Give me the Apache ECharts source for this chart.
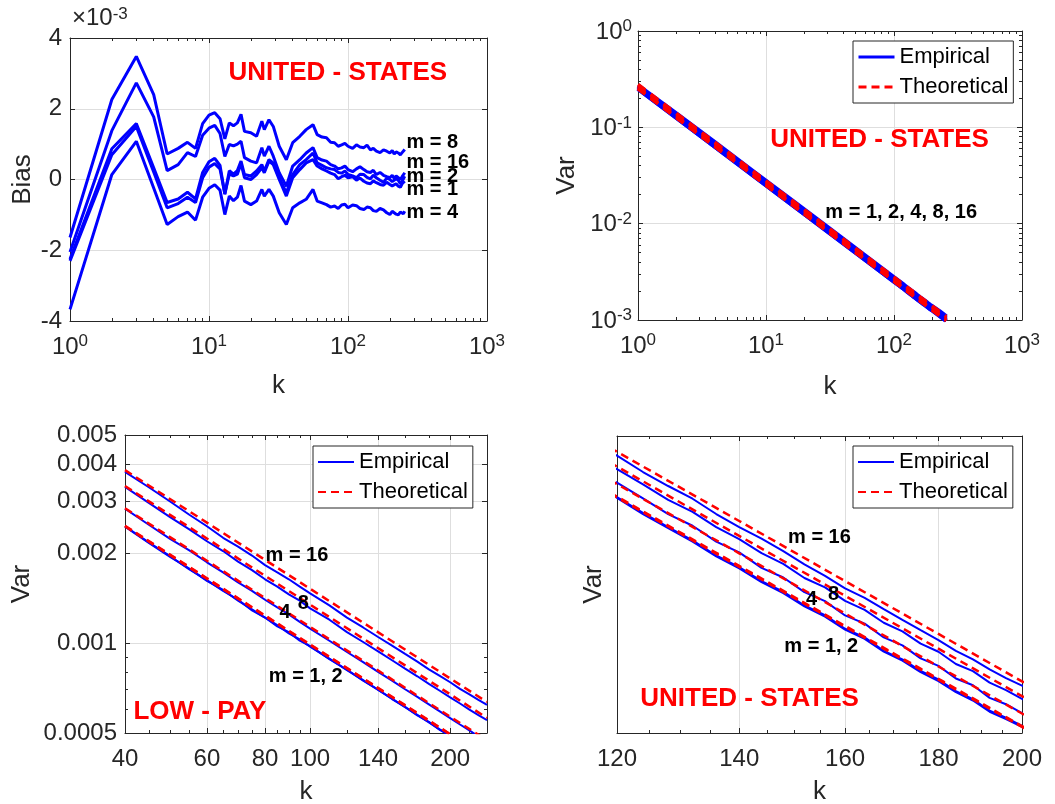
<!DOCTYPE html>
<html><head><meta charset="utf-8">
<script src="https://cdn.jsdelivr.net/npm/echarts@6/dist/echarts.min.js"></script>
<style>html,body{margin:0;padding:0;background:#fff}#c{width:1055px;height:804px}</style>
</head><body><div id="c"></div>
<script>
// ---------------- DATA ----------------
// Panel 1: bias (units of 1e-3) vs k, United States
const p1K = [1,2,3,4,5,6,7,8,9,10,11,12,13,14,15,16,17,18,20,22,24,25,27,29,32,36,40,45,50,56,60,65,70,75,80,85,90,95,100,108,115,122,130,137,145,152,160,170,180,190,200,208,215,222,230,238,245,250,256];
const biasM8  = [-1.64,2.26,3.48,2.40,0.72,0.88,1.05,0.88,1.58,1.82,1.89,1.72,1.15,1.60,1.52,1.60,1.84,1.36,1.32,1.22,1.65,1.41,1.69,1.50,0.94,0.56,1.04,1.22,1.41,1.55,1.27,1.20,1.18,1.05,1.04,0.94,0.98,1.02,0.94,0.88,0.98,0.92,0.90,0.97,0.84,0.88,0.80,0.76,0.84,0.80,0.75,0.82,0.72,0.78,0.75,0.70,0.76,0.74,0.85];
const biasM16 = [-2.05,1.38,2.73,1.77,0.25,0.42,0.76,0.65,1.25,1.45,1.53,1.30,0.65,0.99,0.95,1.00,1.08,0.62,0.52,0.47,0.90,0.66,0.94,0.66,0.19,-0.19,0.38,0.56,0.75,0.90,0.62,0.55,0.52,0.42,0.38,0.30,0.33,0.38,0.28,0.22,0.30,0.36,0.28,0.22,0.20,0.26,0.14,0.20,0.12,0.08,0.05,0.12,0.03,0.10,0.05,0.00,0.08,0.12,0.19];
const biasM2  = [-2.25,0.87,1.58,0.33,-0.65,-0.55,-0.36,-0.55,0.20,0.50,0.60,0.40,-0.42,0.25,0.15,0.25,0.52,0.14,0.10,0.24,0.42,0.24,0.56,0.47,0.05,-0.38,0.14,0.42,0.56,0.75,0.47,0.40,0.33,0.30,0.28,0.20,0.18,0.24,0.14,0.10,0.05,0.15,0.14,0.06,0.02,0.12,0.05,-0.02,-0.08,0.04,0.00,-0.06,-0.10,0.02,-0.02,-0.12,-0.05,0.00,0.09];
const biasM1  = [-2.30,0.70,1.50,0.21,-0.80,-0.68,-0.50,-0.65,0.05,0.35,0.45,0.30,-0.40,0.15,0.10,0.15,0.45,0.05,0.00,0.14,0.33,0.19,0.52,0.42,0.00,-0.47,0.05,0.28,0.47,0.56,0.38,0.30,0.24,0.18,0.14,0.02,0.08,0.12,0.05,0.08,-0.02,0.04,-0.05,-0.10,-0.12,-0.04,-0.09,-0.14,-0.16,-0.08,-0.14,-0.18,-0.20,-0.12,-0.19,-0.22,-0.12,-0.14,-0.05];
const biasM4  = [-3.67,0.14,1.08,-0.24,-1.27,-1.05,-0.92,-1.15,-0.50,-0.25,-0.15,-0.30,-0.99,-0.47,-0.60,-0.50,-0.17,-0.61,-0.71,-0.61,-0.28,-0.47,-0.28,-0.47,-0.94,-1.27,-0.80,-0.66,-0.56,-0.28,-0.61,-0.66,-0.71,-0.78,-0.75,-0.82,-0.72,-0.70,-0.80,-0.72,-0.74,-0.82,-0.85,-0.78,-0.80,-0.88,-0.90,-0.82,-0.86,-0.94,-0.99,-0.90,-0.92,-0.98,-1.00,-0.92,-0.95,-0.97,-0.90];

// Panels 2 and 4: variance vs k, United States
const usK = [1,2,4,8,16,32,64,100,120,124,128,132,136,140,144,148,152,156,160,164,168,172,176,180,184,188,192,196,200,228,256];
const usEmp16 = [0.272,0.1385,0.0695,0.0346,0.01735,0.00868,0.00432,0.00276,0.002300,0.002218,0.002150,0.002090,0.002020,0.001962,0.001912,0.001860,0.001806,0.001760,0.001712,0.001676,0.001635,0.001596,0.001560,0.001526,0.001490,0.001462,0.001430,0.001402,0.001379,0.001222,0.001088];
const usEmp8  = [0.266,0.1340,0.0672,0.0336,0.01680,0.00840,0.00420,0.00268,0.002232,0.002158,0.002085,0.002030,0.001962,0.001910,0.001852,0.001808,0.001752,0.001716,0.001665,0.001632,0.001586,0.001556,0.001514,0.001487,0.001447,0.001424,0.001388,0.001365,0.001339,0.001180,0.001052];
const usEmp4  = [0.259,0.1296,0.0648,0.0324,0.01620,0.00810,0.00405,0.00259,0.002166,0.002092,0.002020,0.001968,0.001900,0.001855,0.001792,0.001754,0.001698,0.001664,0.001612,0.001583,0.001535,0.001508,0.001465,0.001441,0.001401,0.001380,0.001342,0.001323,0.001297,0.001137,0.001012];
const usEmp2  = [0.252,0.1260,0.0630,0.0315,0.01575,0.00787,0.00394,0.00252,0.002098,0.002025,0.001962,0.001905,0.001842,0.001795,0.001740,0.001700,0.001648,0.001613,0.001565,0.001535,0.001490,0.001462,0.001425,0.001398,0.001362,0.001338,0.001304,0.001284,0.001261,0.001105,0.000984];
const usEmp1  = [0.2515,0.1257,0.0629,0.0314,0.01572,0.00786,0.00393,0.002515,0.002094,0.002020,0.001958,0.001900,0.001838,0.001790,0.001736,0.001694,0.001645,0.001608,0.001562,0.001530,0.001487,0.001458,0.001421,0.001393,0.001359,0.001334,0.001301,0.001280,0.001258,0.001103,0.000982];
const usThK = [1,10,100,120,140,160,180,200,256];
const usTh16 = [0.2784,0.02784,0.002784,0.002320,0.001989,0.001740,0.001547,0.001392,0.001088];
const usTh8  = [0.2694,0.02694,0.002694,0.002245,0.001924,0.001684,0.001497,0.001347,0.001052];
const usTh4  = [0.2591,0.02591,0.002591,0.002159,0.001851,0.001619,0.001439,0.001296,0.001012];
const usTh2  = [0.2520,0.02520,0.002520,0.002100,0.001800,0.001575,0.001400,0.001260,0.000984];
const usTh1  = [0.2515,0.02515,0.002515,0.002096,0.001796,0.001572,0.001397,0.001258,0.000982];

// Panel 3: variance vs k, Low-pay
const lowK = [40,45,50,55,60,65,70,75,80,85,90,95,100,110,120,130,140,150,160,170,180,190,200,210,220,230,240];
const lowEmp16 = [0.00376,0.00334,0.00299,0.00270,0.00247,0.00226,0.00211,0.00197,0.00183,0.00173,0.00164,0.00155,0.00147,0.00134,0.00122,0.00113,0.00105,0.000982,0.000921,0.000868,0.000818,0.000777,0.000740,0.000703,0.000674,0.000646,0.000621];
const lowEmp8  = [0.00335,0.00296,0.00265,0.00241,0.00220,0.00204,0.00188,0.00176,0.00164,0.00155,0.00146,0.00139,0.00131,0.00120,0.00109,0.00101,0.000940,0.000877,0.000822,0.000775,0.000731,0.000693,0.000658,0.000628,0.000599,0.000574,0.000552];
const lowEmp4  = [0.00283,0.00250,0.00224,0.00205,0.00187,0.00173,0.00160,0.00150,0.00140,0.00132,0.00125,0.00118,0.00112,0.00102,0.000935,0.000865,0.000802,0.000749,0.000701,0.000661,0.000624,0.000591,0.000561,0.000534,0.000510,0.000487,0.000467];
const lowEmp2  = [0.00246,0.00217,0.00195,0.00178,0.00162,0.00151,0.00139,0.00130,0.00122,0.00115,0.00108,0.00103,0.000975,0.000888,0.000813,0.000752,0.000697,0.000652,0.000610,0.000575,0.000543,0.000514,0.000489,0.000465,0.000444,0.000425,0.000407];
const lowEmp1  = [0.00247,0.00218,0.00196,0.00177,0.00163,0.00150,0.00140,0.00129,0.00122,0.00114,0.00109,0.00102,0.000978,0.000885,0.000815,0.000749,0.000699,0.000650,0.000612,0.000573,0.000545,0.000512,0.000490,0.000463,0.000445,0.000423,0.000408];
const lowThK = [40,60,100,160,240];
const lowTh16 = [0.00381,0.00254,0.001524,0.000953,0.000635];
const lowTh8  = [0.00337,0.002247,0.001348,0.000843,0.000562];
const lowTh4  = [0.002838,0.001892,0.001135,0.000709,0.000473];
const lowTh2  = [0.00248,0.001653,0.000992,0.00062,0.000413];
const lowTh1  = [0.00247,0.001647,0.000988,0.000618,0.000412];

// Tick values
const decadeTicks = [1,10,100,1000];
const varTicksP2 = [0.001,0.01,0.1,1];
const lowXTicks = [40,60,80,100,140,200];
const lowYTicks = [0.0005,0.001,0.002,0.003,0.004,0.005];
const biasTicks = [-4,-2,0,2,4];
const usZoomXTicks = [120,140,160,180,200];

// Text annotations [k, value, text]
const p1Notes = [[13.7,3.02,'UNITED - STATES'],[261,1.045,'m = 8'],[261,0.48,'m = 16'],[261,0.085,'m = 2'],[261,-0.28,'m = 1'],[261,-0.93,'m = 4']];
const p2Notes = [[10.7,0.0738,'UNITED - STATES'],[28.8,0.0132,'m = 1, 2, 4, 8, 16']];
const p3Notes = [[80,0.001977,'m = 16'],[93.8,0.001355,'8'],[85.7,0.001265,'4'],[81.3,0.000771,'m = 1, 2'],[41.6,0.000587,'LOW - PAY']];
const p4Notes = [[148.8,0.001919,'m = 16'],[152.2,0.001672,'4'],[156.5,0.00169,'8'],[148.1,0.001506,'m = 1, 2'],[123.5,0.001338,'UNITED - STATES']];

// ---------------- BUILD ----------------
const L = Math.log10;
const FONT = '"Liberation Sans", Arial, Helvetica, sans-serif';
const AX = '#262626';
const GRIDC = '#dedede';
const BLUE = '#0000ff', RED = '#ff0000';

function logMinors(lo, hi) {
  const out = [];
  for (let d = Math.floor(L(lo)); d <= Math.ceil(L(hi)); d++) {
    for (let j = 2; j <= 9; j++) { const v = j * Math.pow(10, d); if (v > lo && v < hi) out.push(v); }
  }
  return out;
}
function stepMinors(lo, hi, step, majors) {
  const out = [];
  for (let v = lo; v <= hi + 1e-9; v += step) if (majors.indexOf(v) < 0) out.push(v);
  return out;
}

const gridBase = {containLabel:false, outerBoundsMode:'none'};
const grids = [
  Object.assign({left:70, top:38, width:417, height:283}, gridBase),
  Object.assign({left:638, top:31, width:384, height:289}, gridBase),
  Object.assign({left:125, top:435, width:362, height:298}, gridBase),
  Object.assign({left:617, top:436, width:405, height:297}, gridBase)
];

const richSup = {
  b:{fontSize:24, lineHeight:26, padding:[6,0,0,0], verticalAlign:'bottom', color:AX, fontFamily:FONT},
  s:{fontSize:17, lineHeight:17, verticalAlign:'top', color:AX, fontFamily:FONT}
};
const xAxes = [], yAxes = [];
function addAxes(list, gi, dim, o) {
  const isX = dim === 'x';
  const near = isX ? 'bottom' : 'left', far = isX ? 'top' : 'right';
  const base = {gridIndex:gi, type:'value', min:o.min, max:o.max, silent:true};
  const idx = list.length;
  list.push(Object.assign({}, base, {
    position: near,
    axisLine:{show:true, onZero:false, lineStyle:{color:AX, width:1}},
    axisTick:{show:o.major.length>0, inside:true, length:5, lineStyle:{color:AX}, customValues:o.major},
    axisLabel:{show:!!o.fmt, customValues:o.major, formatter:o.fmt, rich:richSup, margin:o.margin,
               fontSize:24, color:AX, fontFamily:FONT, showMinLabel:true, showMaxLabel:true, hideOverlap:false},
    splitLine:{show:o.major.length>0, lineStyle:{color:GRIDC, width:1}},
    name:o.name, nameLocation:'middle', nameGap:o.nameGap,
    nameTextStyle:{fontSize:26, color:AX, fontFamily:FONT}
  }));
  list.push(Object.assign({}, base, {
    position: near, axisLine:{show:false, onZero:false},
    axisTick:{show:o.minor.length>0, inside:true, length:3, lineStyle:{color:AX}, customValues:o.minor},
    axisLabel:{show:false}, splitLine:{show:false}
  }));
  list.push(Object.assign({}, base, {
    position: far, axisLine:{show:true, onZero:false, lineStyle:{color:AX, width:1}},
    axisTick:{show:o.major.length>0, inside:true, length:5, lineStyle:{color:AX}, customValues:o.major},
    axisLabel:{show:false}, splitLine:{show:false}
  }));
  list.push(Object.assign({}, base, {
    position: far, axisLine:{show:false, onZero:false},
    axisTick:{show:o.minor.length>0, inside:true, length:3, lineStyle:{color:AX}, customValues:o.minor},
    axisLabel:{show:false}, splitLine:{show:false}
  }));
  return idx;
}
const pow10Fmt = v => '{b|10}{s|' + Math.round(v) + '}';
const plainK = v => String(Math.round(Math.pow(10, v)));
const smallVar = v => String(Number(Math.pow(10, v).toPrecision(1)));

const x1 = addAxes(xAxes, 0, 'x', {min:0, max:3, major:decadeTicks.map(L), minor:logMinors(1,1000).map(L), fmt:pow10Fmt, margin:12, name:'k', nameGap:52});
const y1 = addAxes(yAxes, 0, 'y', {min:-4, max:4, major:biasTicks, minor:[], fmt:v=>String(v), margin:8, name:'Bias', nameGap:34});
const x2 = addAxes(xAxes, 1, 'x', {min:0, max:3, major:decadeTicks.map(L), minor:logMinors(1,1000).map(L), fmt:pow10Fmt, margin:12, name:'k', nameGap:54});
const y2 = addAxes(yAxes, 1, 'y', {min:-3, max:0, major:varTicksP2.map(L), minor:logMinors(0.001,1).map(L), fmt:pow10Fmt, margin:6, name:'Var', nameGap:58});
const x3 = addAxes(xAxes, 2, 'x', {min:L(40), max:L(240), major:lowXTicks.map(L), minor:stepMinors(40,100,5,lowXTicks).concat([120,160,180,220,240]).map(L), fmt:plainK, margin:14, name:'k', nameGap:46});
const y3 = addAxes(yAxes, 2, 'y', {min:L(0.0005), max:L(0.005), major:lowYTicks.map(L), minor:[0.0006,0.0007,0.0008,0.0009].map(L), fmt:smallVar, margin:8, name:'Var', nameGap:90});
const x4 = addAxes(xAxes, 3, 'x', {min:L(120), max:L(200), major:usZoomXTicks.map(L), minor:stepMinors(120,200,5,usZoomXTicks).map(L), fmt:plainK, margin:14, name:'k', nameGap:46});
const y4 = addAxes(yAxes, 3, 'y', {min:L(0.001241), max:L(0.002403), major:[], minor:[], fmt:null, margin:8, name:'Var', nameGap:10});

function line(name, xi, yi, ks, vs, color, width, dash, logY) {
  return {type:'line', name, xAxisIndex:xi, yAxisIndex:yi, symbol:'none', silent:true, clip:true,
    data: ks.map((k,i)=>[L(k), logY ? L(vs[i]) : vs[i]]),
    lineStyle:{color, width, type:dash || 'solid'}, itemStyle:{color}, z: dash ? 3 : 2};
}
function notes(xi, yi, arr, logY) {
  return {type:'scatter', name:'notes'+xi, xAxisIndex:xi, yAxisIndex:yi, symbolSize:1, silent:true, z:5,
    itemStyle:{color:'rgba(0,0,0,0)', opacity:1},
    data: arr.map(n => {
      const red = /STATES|PAY/.test(n[2]);
      return {value:[L(n[0]), logY ? L(n[1]) : n[1]],
        itemStyle:{opacity:1},
        label:{show:true, position:'right', distance:0, formatter:n[2], fontFamily:FONT, fontWeight:'bold', opacity:1,
               fontSize: red ? 26 : 20, color: red ? RED : '#000'}};
    })};
}

const series = [];
[biasM8,biasM16,biasM2,biasM1,biasM4].forEach((a,i)=>series.push(line('bias'+i, x1, y1, p1K, a, BLUE, 3, null, false)));
series.push(notes(x1, y1, p1Notes, false));

const usEmp = [usEmp1,usEmp2,usEmp4,usEmp8,usEmp16];
const usTh = [usTh1,usTh2,usTh4,usTh8,usTh16];
usEmp.forEach(a=>series.push(line('Empirical', x2, y2, usK, a, BLUE, 4.5, null, true)));
usTh.forEach(a=>series.push(line('Theoretical', x2, y2, usThK, a, RED, 3.5, [9,7], true)));
series.push(notes(x2, y2, p2Notes, true));

[lowEmp1,lowEmp2,lowEmp4,lowEmp8,lowEmp16].forEach(a=>series.push(line('Empirical', x3, y3, lowK, a, BLUE, 2, null, true)));
[lowTh1,lowTh2,lowTh4,lowTh8,lowTh16].forEach(a=>series.push(line('Theoretical', x3, y3, lowThK, a, RED, 2.5, [8,5], true)));
series.push(notes(x3, y3, p3Notes, true));

usEmp.forEach(a=>series.push(line('Empirical', x4, y4, usK, a, BLUE, 2, null, true)));
usTh.forEach(a=>series.push(line('Theoretical', x4, y4, usThK, a, RED, 2.5, [8,5], true)));
series.push(notes(x4, y4, p4Notes, true));

function legendAt(left, top, w) {
  return {show:true, left, top, orient:'vertical', selectedMode:false, backgroundColor:'#fff', borderColor:AX, borderWidth:1,
    padding:[3,5,3,4], itemGap:4, itemWidth:36, itemHeight:14,
    textStyle:{fontSize:22, lineHeight:26, color:'#000', fontFamily:FONT},
    data:[{name:'Empirical', lineStyle:{color:BLUE, width:w, type:'solid'}, itemStyle:{color:BLUE, opacity:0}},
          {name:'Theoretical', lineStyle:{color:RED, width:w, type:[8,5]}, itemStyle:{color:RED, opacity:0}}]};
}

const chart = echarts.init(document.getElementById('c'), null, {renderer:'canvas'});
chart.setOption({
  animation:false,
  backgroundColor:'#fff',
  textStyle:{fontFamily:FONT},
  grid: grids,
  xAxis: xAxes,
  yAxis: yAxes,
  legend: [legendAt(853,41,3), legendAt(313,446,2), legendAt(853,446,2)],
  graphic: [{type:'text', left:72, top:6, silent:true,
    style:{text:'×10{s|-3}', fill:AX, font:'24px ' + FONT,
      rich:{s:{fontSize:17, verticalAlign:'top', fill:AX, fontFamily:FONT, lineHeight:17}}}}],
  series
});
</script></body></html>
